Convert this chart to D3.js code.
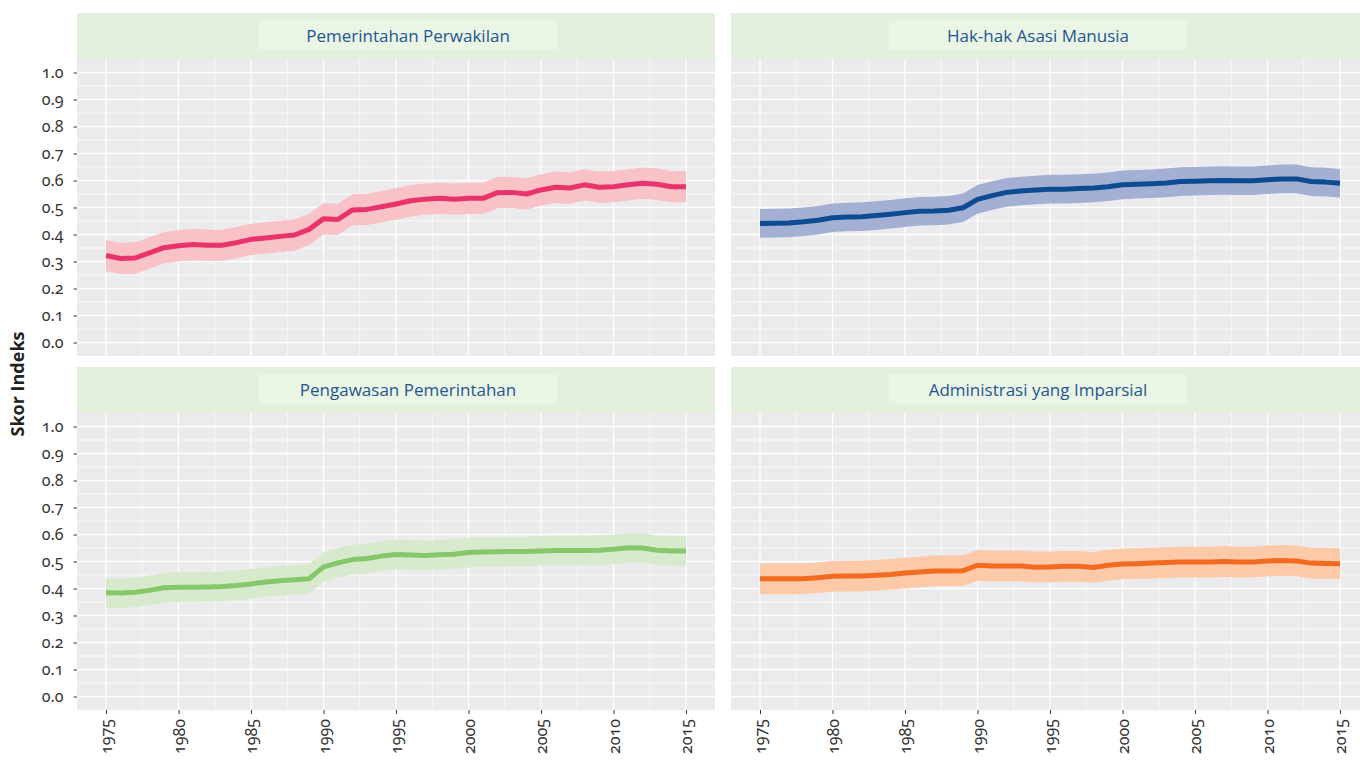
<!DOCTYPE html>
<html>
<head>
<meta charset="utf-8">
<script src="https://cdn.jsdelivr.net/npm/d3@7"></script>
<style>
  html, body { margin: 0; padding: 0; background: #ffffff; }
  svg { display: block; }
  .num { font-family: "Noto Sans", "Open Sans", sans-serif; font-feature-settings: "onum" 1; font-variant-numeric: oldstyle-nums; }
</style>
</head>
<body>
<svg id="chart" width="1360" height="760"></svg>
<script>
// Years on the x axis
const years = d3.range(1975, 2016);
const xTicks = [1975, 1980, 1985, 1990, 1995, 2000, 2005, 2010, 2015];
const yTicks = [0, 0.1, 0.2, 0.3, 0.4, 0.5, 0.6, 0.7, 0.8, 0.9, 1.0];

// Panel titles, in reading order
const panelTitles = ["Pemerintahan Perwakilan", "Hak-hak Asasi Manusia", "Pengawasan Pemerintahan", "Administrasi yang Imparsial"];

// Pemerintahan Perwakilan: estimate and uncertainty band
const perwakilan = [0.322,0.311,0.313,0.332,0.351,0.358,0.363,0.360,0.360,0.370,0.382,0.387,0.393,0.398,0.419,0.458,0.456,0.491,0.493,0.503,0.513,0.525,0.531,0.534,0.531,0.534,0.534,0.555,0.556,0.550,0.565,0.575,0.572,0.584,0.575,0.577,0.584,0.590,0.586,0.577,0.577];
const perwakilanLo = [0.264,0.253,0.255,0.274,0.293,0.300,0.305,0.302,0.302,0.312,0.324,0.329,0.335,0.340,0.361,0.400,0.398,0.433,0.435,0.445,0.455,0.467,0.473,0.476,0.473,0.476,0.476,0.497,0.498,0.492,0.507,0.517,0.514,0.526,0.517,0.519,0.526,0.532,0.528,0.519,0.519];
const perwakilanHi = [0.380,0.369,0.371,0.390,0.409,0.416,0.421,0.418,0.418,0.428,0.440,0.445,0.451,0.456,0.477,0.516,0.514,0.549,0.551,0.561,0.571,0.583,0.589,0.592,0.589,0.592,0.592,0.613,0.614,0.608,0.623,0.633,0.630,0.642,0.633,0.635,0.642,0.648,0.644,0.635,0.635];

// Hak-hak Asasi Manusia
const hakAsasi = [0.441,0.442,0.443,0.447,0.453,0.462,0.465,0.466,0.470,0.475,0.481,0.486,0.487,0.490,0.499,0.530,0.544,0.556,0.561,0.565,0.568,0.568,0.570,0.572,0.577,0.584,0.586,0.588,0.591,0.596,0.597,0.599,0.600,0.599,0.599,0.603,0.606,0.606,0.596,0.594,0.590];
const hakAsasiLo = [0.388,0.389,0.390,0.394,0.400,0.409,0.412,0.413,0.417,0.422,0.428,0.433,0.434,0.437,0.446,0.477,0.491,0.503,0.508,0.512,0.515,0.515,0.517,0.519,0.524,0.531,0.533,0.535,0.538,0.543,0.544,0.546,0.547,0.546,0.546,0.550,0.553,0.553,0.543,0.541,0.537];
const hakAsasiHi = [0.494,0.495,0.496,0.500,0.506,0.515,0.518,0.519,0.523,0.528,0.534,0.539,0.540,0.543,0.552,0.583,0.597,0.609,0.614,0.618,0.621,0.621,0.623,0.625,0.630,0.637,0.639,0.641,0.644,0.649,0.650,0.652,0.653,0.652,0.652,0.656,0.659,0.659,0.649,0.647,0.643];

// Pengawasan Pemerintahan
const pengawasan = [0.384,0.383,0.386,0.393,0.403,0.405,0.405,0.406,0.407,0.411,0.417,0.424,0.429,0.432,0.436,0.480,0.495,0.507,0.511,0.520,0.526,0.524,0.522,0.525,0.527,0.533,0.535,0.536,0.537,0.537,0.539,0.541,0.541,0.541,0.542,0.545,0.551,0.550,0.542,0.539,0.539];
const pengawasanLo = [0.329,0.328,0.331,0.338,0.348,0.350,0.350,0.351,0.352,0.356,0.362,0.369,0.374,0.377,0.381,0.425,0.440,0.452,0.456,0.465,0.471,0.469,0.467,0.470,0.472,0.478,0.480,0.481,0.482,0.482,0.484,0.486,0.486,0.486,0.487,0.490,0.496,0.495,0.487,0.484,0.484];
const pengawasanHi = [0.439,0.438,0.441,0.448,0.458,0.460,0.460,0.461,0.462,0.466,0.472,0.479,0.484,0.487,0.491,0.535,0.550,0.562,0.566,0.575,0.581,0.579,0.577,0.580,0.582,0.588,0.590,0.591,0.592,0.592,0.594,0.596,0.596,0.596,0.597,0.600,0.606,0.605,0.597,0.594,0.594];

// Administrasi yang Imparsial
const imparsial = [0.436,0.436,0.436,0.436,0.440,0.445,0.446,0.446,0.449,0.452,0.457,0.461,0.465,0.465,0.466,0.486,0.483,0.483,0.483,0.479,0.480,0.482,0.482,0.478,0.486,0.491,0.492,0.494,0.496,0.498,0.498,0.498,0.500,0.498,0.498,0.502,0.504,0.502,0.494,0.493,0.492];
const imparsialLo = [0.379,0.379,0.379,0.379,0.383,0.388,0.389,0.389,0.392,0.395,0.400,0.404,0.408,0.408,0.409,0.429,0.426,0.426,0.426,0.422,0.423,0.425,0.425,0.421,0.429,0.434,0.435,0.437,0.439,0.441,0.441,0.441,0.443,0.441,0.441,0.445,0.447,0.445,0.437,0.436,0.435];
const imparsialHi = [0.493,0.493,0.493,0.493,0.497,0.502,0.503,0.503,0.506,0.509,0.514,0.518,0.522,0.522,0.523,0.543,0.540,0.540,0.540,0.536,0.537,0.539,0.539,0.535,0.543,0.548,0.549,0.551,0.553,0.555,0.555,0.555,0.557,0.555,0.555,0.559,0.561,0.559,0.551,0.550,0.549];

const lineColors = ["#e8336b", "#0d4c92", "#86c769", "#f26b21"];
const bandColors = ["#f8c2c7", "#a3b0d3", "#d8eacd", "#fccaa8"];

// Assemble per-panel records
const seriesMid = [perwakilan, hakAsasi, pengawasan, imparsial];
const seriesLo = [perwakilanLo, hakAsasiLo, pengawasanLo, imparsialLo];
const seriesHi = [perwakilanHi, hakAsasiHi, pengawasanHi, imparsialHi];

const panels = panelTitles.map((title, i) => ({
  title,
  line: lineColors[i],
  band: bandColors[i],
  col: i % 2,
  row: Math.floor(i / 2),
  points: years.map((yr, j) => ({ year: yr, v: seriesMid[i][j], lo: seriesLo[i][j], hi: seriesHi[i][j] }))
}));

// Layout
const panelLeft = [77, 731];
const panelW = 638;
const stripTop = [13, 367];
const stripH = 46;
const plotH = 297;
const labelBoxW = 298, labelBoxH = 30;
const labelBoxCenter = [408, 1038];

const svg = d3.select("#chart");

panels.forEach(p => {
  const x0 = panelLeft[p.col];
  const sTop = stripTop[p.row];
  const pTop = sTop + stripH;
  const pBot = pTop + plotH;

  const x = d3.scaleLinear().domain([1973, 2017]).range([x0, x0 + panelW]);
  const y = d3.scaleLinear().domain([-0.05, 1.05]).range([pBot, pTop]);

  const g = svg.append("g");

  // Facet strip with its inner label box
  g.append("rect").attr("x", x0).attr("y", sTop).attr("width", panelW).attr("height", stripH).attr("fill", "#e3f0dc");
  const cx = labelBoxCenter[p.col];
  g.append("rect").attr("x", cx - labelBoxW / 2).attr("y", sTop + 7).attr("width", labelBoxW).attr("height", labelBoxH).attr("fill", "#ebf5e5");
  g.append("text").attr("x", cx).attr("y", sTop + 23).attr("dy", "0.35em")
    .attr("text-anchor", "middle")
    .attr("font-family", "'Open Sans', 'Noto Sans', sans-serif")
    .attr("font-size", 17).attr("fill", "#1f5592")
    .text(p.title);

  // Panel background
  g.append("rect").attr("x", x0).attr("y", pTop).attr("width", panelW).attr("height", plotH).attr("fill", "#ebebed");

  // Grid: minor then major
  const xMinor = d3.range(1972.5, 2020, 5).filter(v => v > 1973 && v < 2017);
  const yMinor = d3.range(0.05, 1.0, 0.1);
  g.append("g").selectAll("line").data(xMinor).join("line")
    .attr("x1", d => x(d)).attr("x2", d => x(d)).attr("y1", pTop).attr("y2", pBot)
    .attr("stroke", "#ffffff").attr("stroke-width", 0.7);
  g.append("g").selectAll("line").data(yMinor).join("line")
    .attr("x1", x0).attr("x2", x0 + panelW).attr("y1", d => y(d)).attr("y2", d => y(d))
    .attr("stroke", "#ffffff").attr("stroke-width", 0.7);
  g.append("g").selectAll("line").data(xTicks).join("line")
    .attr("x1", d => x(d)).attr("x2", d => x(d)).attr("y1", pTop).attr("y2", pBot)
    .attr("stroke", "#ffffff").attr("stroke-width", 1.3);
  g.append("g").selectAll("line").data(yTicks).join("line")
    .attr("x1", x0).attr("x2", x0 + panelW).attr("y1", d => y(d)).attr("y2", d => y(d))
    .attr("stroke", "#ffffff").attr("stroke-width", 1.3);

  // Uncertainty band and estimate line
  const area = d3.area().x(d => x(d.year)).y0(d => y(d.lo)).y1(d => y(d.hi));
  g.append("path").datum(p.points).attr("d", area).attr("fill", p.band);
  const line = d3.line().x(d => x(d.year)).y(d => y(d.v));
  g.append("path").datum(p.points).attr("d", line)
    .attr("fill", "none").attr("stroke", p.line).attr("stroke-width", 5)
    .attr("stroke-linejoin", "round");

  // Y axis on left-column panels only
  if (p.col === 0) {
    const ya = g.append("g").attr("transform", `translate(${x0},0)`)
      .call(d3.axisLeft(y).tickValues(yTicks).tickFormat(d3.format(".1f")).tickSize(3.5).tickPadding(10));
    ya.select(".domain").remove();
    ya.selectAll(".tick line").attr("stroke", "#333333").attr("stroke-width", 1);
    ya.selectAll(".tick text").attr("class", "num").attr("font-size", 16).attr("fill", "#333333");
  }

  // X axis on bottom-row panels only
  if (p.row === 1) {
    const xa = g.append("g").attr("transform", `translate(0,${pBot})`)
      .call(d3.axisBottom(x).tickValues(xTicks).tickFormat(d3.format("d")).tickSize(4).tickPadding(4));
    xa.select(".domain").remove();
    xa.selectAll(".tick line").attr("stroke", "#333333").attr("stroke-width", 1);
    xa.selectAll(".tick text")
      .attr("class", "num")
      .attr("font-size", 16).attr("fill", "#333333")
      .attr("text-anchor", "end")
      .attr("transform", "rotate(-90)")
      .attr("x", -9).attr("y", 0).attr("dy", "0.35em");
  }
});

// Shared y-axis title
svg.append("text")
  .attr("transform", "translate(24,384) rotate(-90)")
  .attr("text-anchor", "middle")
  .attr("font-family", "'Open Sans', 'Noto Sans', sans-serif")
  .attr("font-weight", "bold").attr("font-size", 18).attr("fill", "#222222")
  .text("Skor Indeks");
</script>
</body>
</html>
